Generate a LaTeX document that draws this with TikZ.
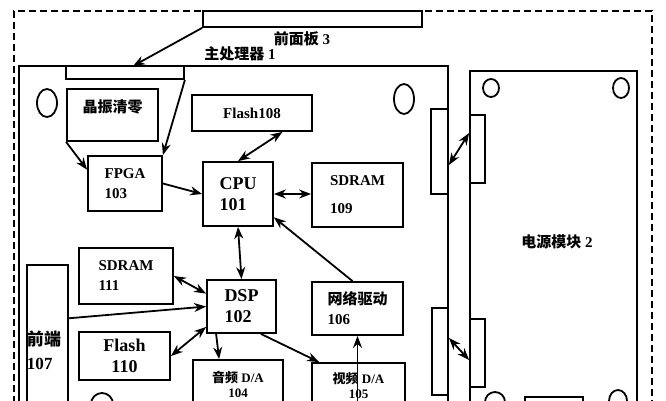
\documentclass[tikz,border=0pt]{standalone}
\usepackage{fontspec}
\setmainfont{Liberation Serif}
\newfontfamily\cjk{Noto Sans CJK SC}
\usetikzlibrary{arrows.meta,calc}
\newcommand{\zh}[1]{{\cjk\bfseries #1}}

\begin{document}
\begin{tikzpicture}[
    x=1pt, y=-1pt,
    line width=1.8pt,
    >={Stealth[length=12pt, width=9pt]},
    box/.style={rectangle, draw, inner sep=0pt, align=left, font=\fontsize{15}{20}\selectfont\bfseries},
    bigbox/.style={box, font=\fontsize{18}{21}\selectfont\bfseries},
    dabox/.style={box, align=center, font=\fontsize{13}{15}\selectfont\bfseries},
    brd/.style={rectangle, draw, inner sep=0pt},
    port/.style={rectangle, draw, fill=white, inner sep=0pt},
    caption/.style={font=\fontsize{15}{18}\selectfont\bfseries, inner sep=0pt}
]
  \useasboundingbox (0,0) rectangle (666,400);
  \clip (0,0) rectangle (666,400);

  % enclosure and boards
  \node[brd, dash pattern=on 7pt off 4pt, minimum width=638, minimum height=440] (case) at (333,231) {};
  \node[brd, minimum width=429, minimum height=374] (mainbd) at (233.5,253) {};
  \node[brd, minimum width=167, minimum height=369] (powerbd) at (553.5,255.5) {};
  \coordinate (mbtop) at (133,66);

  \node[port, minimum width=219, minimum height=16] (panel) at (312.5,19) {};
  \node[caption] (paneltext) at (302,39) {\zh{前面板} 3};
  \node[caption] (maintext) at (240,54) {\zh{主处理器} 1};
  \node[caption] (powertext) at (557,242) {\zh{电源模块} 2};
  \node[port, minimum width=118, minimum height=13] (hdr) at (125,72.5) {};

  % mounting holes
  \draw (47,103) ellipse [x radius=10, y radius=14];
  \draw (404,99) ellipse [x radius=10, y radius=15];
  \draw (491,88) ellipse [x radius=8, y radius=9];
  \draw (621,88) ellipse [x radius=8, y radius=10];
  \draw (102,404) circle [radius=11];
  \draw (495,402) circle [radius=10];
  \draw (618,401) ellipse [x radius=9, y radius=11];
  \draw (525,397) rectangle (583,420);

  % board connectors
  \node[port, minimum width=17, minimum height=85] (mc1) at (439.5,151.5) {};
  \node[port, minimum width=15, minimum height=68] (pc1) at (477.5,149) {};
  \node[port, minimum width=16, minimum height=87] (mc2) at (440,351.5) {};
  \node[port, minimum width=15, minimum height=68] (pc2) at (477.5,353) {};

  % blocks
  \node[box, minimum width=91, minimum height=52] (xtal) at (112.5,115) {};
  \node[caption] (xtaltext) at (112.5,107) {\zh{晶振清零}};
  \node[box, minimum width=120, minimum height=36] (flasha) at (252,113) {Flash108};
  \node[box, minimum width=74, minimum height=55] (fpga) at (125,183.5) {FPGA\\103};
  \node[bigbox, minimum width=70, minimum height=64] (cpu) at (238,194) {CPU\\101};
  \node[box, minimum width=91, minimum height=64] (sdrama) at (357.5,195) {SDRAM\\[8pt]109};
  \node[box, minimum width=94, minimum height=56] (sdramb) at (126,276) {SDRAM\\111};
  \node[bigbox, minimum width=69, minimum height=53] (dsp) at (241.5,306.5) {DSP\\102};
  \node[box, minimum width=91, minimum height=53] (net) at (357.5,308.5) {\zh{网络驱动}\\106};
  \node[box, font=\fontsize{17}{24}\selectfont\bfseries, text width=41, minimum height=170] (front) at (47.5,350) {\zh{前端}\\107};
  \node[bigbox, align=center, minimum width=91, minimum height=48] (flashb) at (124.5,356) {Flash\\110};
  \node[dabox, minimum width=90, minimum height=48] (audio) at (238,384) {\zh{音频} D/A\\104};
  \node[dabox, minimum width=93, minimum height=44] (video) at (358.5,385) {\zh{视频} D/A\\105};

  \draw[->] (panel.south west) -- (mbtop);
  \draw[->] (hdr.south east) -- (fpga.north east);
  \draw[->] (xtal.south west) -- (fpga.160);
  \draw[->] (fpga.east) -- (cpu.west);
  \draw[<->] (cpu.east) -- (cpu.east -| sdrama.west);
  \draw[<->] ($(flasha.south)!0.5!(flasha.south east)$) -- (cpu.north);
  \draw[<->] (cpu.south) -- (dsp.north);
  \draw[->] ([xshift=-5]net.north) -- (cpu.-33);
  \draw[<->] (sdramb.east) -- (dsp.160);
  \draw[->] (front.56) -- (dsp.west);
  \draw[<->] (dsp.210) -- (flashb.east);
  \draw[->] ([xshift=10]dsp.south west) -- ([xshift=27]audio.north west);
  \draw[->] ([xshift=-16]dsp.south east) -- ([xshift=8]video.north west);
  \draw[->] (video.south -| net.south) -- (net.south);
  \draw[<->] ([yshift=-13.5]mc1.east) -- ([yshift=16]pc1.west);
  \draw[<->] ([yshift=13.5]mc2.east) -- ([yshift=-7]pc2.west);
\end{tikzpicture}
\end{document}
